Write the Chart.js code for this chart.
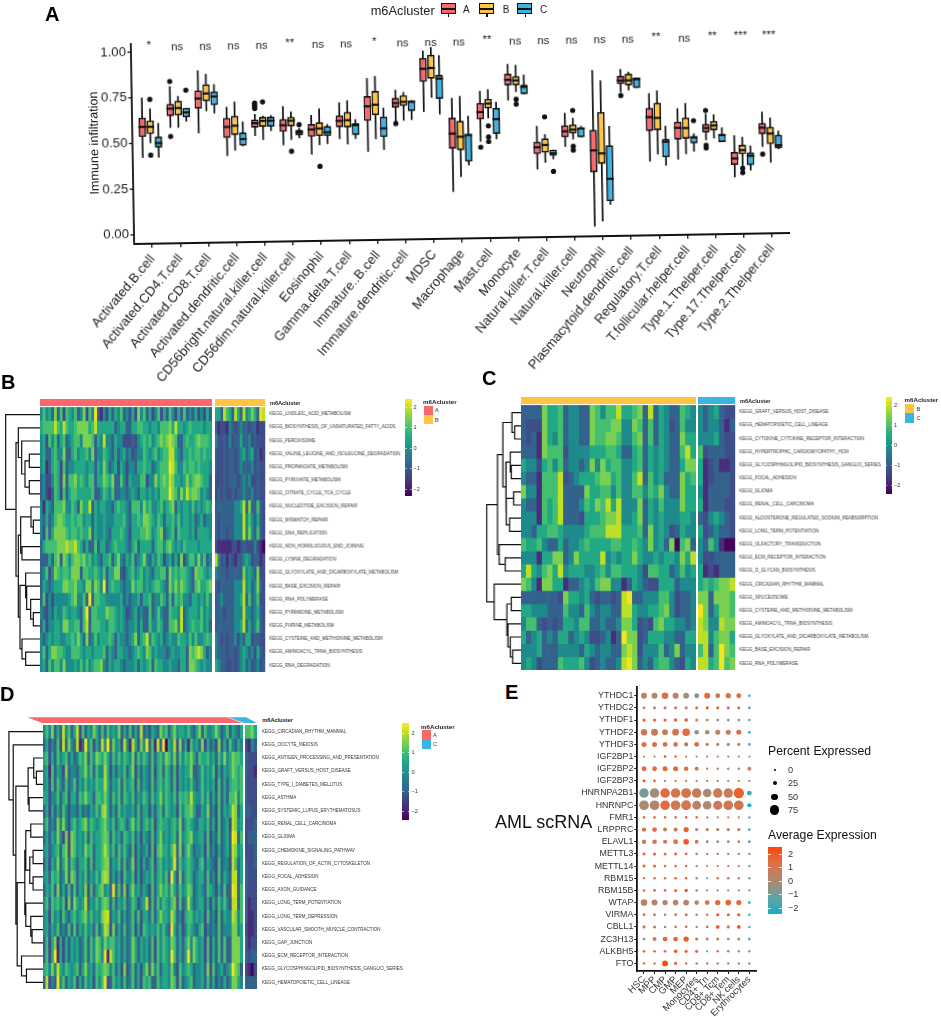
<!DOCTYPE html>
<html>
<head>
<meta charset="utf-8">
<script src="https://cdn.jsdelivr.net/npm/chart.js@4/dist/chart.umd.js"></script>
<style>
  html, body { margin: 0; padding: 0; background: #fff; }
  #page { position: relative; width: 941px; height: 1017px; overflow: hidden; font-family: "Liberation Sans", Arial, sans-serif; color: #222; }
  #page canvas { position: absolute; }
  .t { position: absolute; white-space: nowrap; transform: translateY(-50%); }
  .b { position: absolute; }
</style>
</head>
<body>
<div id="page"></div>
<script>
// ---- panel A: immune infiltration boxplots ----
const cellTypes = ['Activated.B.cell','Activated.CD4.T.cell','Activated.CD8.T.cell','Activated.dendritic.cell','CD56bright.natural.killer.cell','CD56dim.natural.killer.cell','Eosinophil','Gamma.delta.T.cell','Immature..B.cell','Immature.dendritic.cell','MDSC','Macrophage','Mast.cell','Monocyte','Natural.killer.T.cell','Natural.killer.cell','Neutrophil','Plasmacytoid.dendritic.cell','Regulatory.T.cell','T.follicular.helper.cell','Type.1.Thelper.cell','Type.17.Thelper.cell','Type.2.Thelper.cell'];
const signif = ['*','ns','ns','ns','ns','**','ns','ns','*','ns','ns','ns','**','ns','ns','ns','ns','ns','**','ns','**','***','***'];
const yTicksA = [0, 0.25, 0.5, 0.75, 1];

const loA  = [.42,.582,.55,.423,.53,.477,.424,.505,.433,.594,.646,.206,.478,.701,.321,.442,.004,.736,.354,.362,.465,.26,.424];
const q1A  = [.535,.647,.685,.522,.575,.55,.52,.57,.602,.672,.81,.443,.60,.783,.405,.495,.30,.781,.521,.471,.508,.328,.493];
const medA = [.59,.687,.74,.582,.60,.586,.56,.605,.682,.697,.882,.525,.64,.814,.442,.527,.42,.80,.597,.536,.532,.363,.529];
const q3A  = [.64,.714,.785,.632,.62,.62,.59,.635,.738,.726,.942,.612,.69,.847,.472,.56,.533,.825,.648,.569,.555,.399,.555];
const hiA  = [.75,.81,.894,.692,.65,.69,.64,.706,.836,.77,.981,.72,.756,.901,.559,.628,.86,.863,.728,.643,.61,.49,.616];

const loB  = [.50,.582,.67,.452,.507,.505,.474,.476,.502,.60,.723,.286,.605,.747,.357,.482,.031,.745,.392,.391,.474,.323,.337];
const q1B  = [.55,.65,.725,.537,.58,.58,.524,.568,.633,.68,.827,.433,.659,.783,.412,.515,.345,.772,.525,.476,.519,.386,.438];
const medB = [.59,.69,.767,.588,.612,.61,.565,.608,.69,.703,.886,.507,.686,.81,.454,.536,.403,.80,.592,.534,.545,.408,.496];
const q3B  = [.625,.73,.817,.642,.634,.632,.60,.653,.765,.74,.958,.594,.712,.834,.49,.564,.63,.836,.675,.591,.57,.437,.533];
const hiB  = [.69,.756,.875,.72,.64,.66,.675,.717,.847,.757,1.0,.73,.764,.895,.513,.60,.802,.848,.742,.671,.606,.481,.584];

const loC  = [.42,.615,.657,.474,.556,.513,.48,.505,.442,.603,.631,.349,.49,.734,.375,.493,.121,.757,.33,.404,.454,.296,.41];
const q1C  = [.475,.638,.703,.478,.58,.53,.523,.526,.513,.652,.716,.37,.519,.734,.394,.493,.141,.757,.376,.449,.454,.325,.415];
const medC = [.50,.665,.75,.514,.612,.546,.544,.58,.56,.703,.827,.516,.60,.774,.408,.541,.263,.806,.461,.482,.492,.376,.431];
const q3C  = [.535,.69,.778,.55,.634,.56,.578,.59,.624,.708,.847,.52,.661,.786,.428,.545,.446,.814,.477,.489,.499,.394,.489];
const hiC  = [.61,.69,.817,.61,.642,.57,.587,.612,.673,.712,.955,.621,.695,.841,.428,.555,.552,.814,.548,.504,.534,.432,.511];

// [category index, value]
const outA = [[1,.836],[1,.535],[4,.71],[4,.70],[4,.69],[4,.68],[9,.585],[12,.448],[17,.718],[20,.628],[20,.438],[20,.423],[22,.384]];
const outB = [[0,.74],[0,.435],[4,.716],[5,.443],[6,.358],[12,.564],[12,.503],[12,.478],[13,.707],[13,.68],[14,.608],[15,.641],[15,.445],[15,.424],[21,.309],[21,.285]];
const outC = [[1,.787],[5,.588],[14,.309],[19,.574]];

// ---- heatmap rows, one digit per column: 0 = lowest ... 9 = highest ----
const heatPalette = ['#450559','#472d7b','#3d4e8a','#33638d','#1f8a8c','#22a884','#44bf70','#7ad151','#bddf26','#f1e51d'];

const rowsB = ['KEGG_LINOLEIC_ACID_METABOLISM','KEGG_BIOSYNTHESIS_OF_UNSATURATED_FATTY_ACIDS','KEGG_PEROXISOME','KEGG_VALINE_LEUCINE_AND_ISOLEUCINE_DEGRADATION','KEGG_PROPANOATE_METABOLISM','KEGG_PYRUVATE_METABOLISM','KEGG_CITRATE_CYCLE_TCA_CYCLE','KEGG_NUCLEOTIDE_EXCISION_REPAIR','KEGG_MISMATCH_REPAIR','KEGG_DNA_REPLICATION','KEGG_NON_HOMOLOGOUS_END_JOINING','KEGG_LYSINE_DEGRADATION','KEGG_GLYOXYLATE_AND_DICARBOXYLATE_METABOLISM','KEGG_BASE_EXCISION_REPAIR','KEGG_RNA_POLYMERASE','KEGG_PYRIMIDINE_METABOLISM','KEGG_PURINE_METABOLISM','KEGG_CYSTEINE_AND_METHIONINE_METABOLISM','KEGG_AMINOACYL_TRNA_BIOSYNTHESIS','KEGG_RNA_DEGRADATION'];
const heatBa = [
  '4645373626 5463472649 3142535463 4252746352 4625364253 6343524253',
  '5666686586 5567777568 5555553455 3355665545 5466675855 4565555455',
  '4526463563 4566477763 5484435442 2232456564 5676787633 5655676665',
  '4533564473 3564556473 4465435345 3423446545 6456688543 5565665655',
  '4513565263 4455554553 5475345254 2443556553 4566698644 6566565554',
  '3422465273 6675654663 5576573364 2544466244 7567687554 5756776553',
  '3421365263 5665555563 3465463344 3454355454 5466697647 5867764543',
  '4154366674 4653755835 4554435655 4366647564 4564567354 5546454565',
  '4353467765 5656645535 4454445556 4355657765 4653556464 5545345344',
  '4263577776 5665655735 4454355565 4255566764 5673456365 5545355554',
  '3566667778 7786535336 3553456555 4356355553 5664675454 6555545555',
  '3335367376 4677675645 4355635743 5463457435 4652453537 2466474634',
  '3462476566 5777366556 5463557732 4564564543 5566375656 6543766545',
  '3543455577 6675547747 6493565543 4475664545 6654375757 6543675567',
  '3624244444 5674463936 6554444453 4344535563 4465363656 4435545464',
  '4324354465 4554369366 5557665454 2345343363 4643365548 3455546454',
  '3524455477 5566368366 6554665454 3445353364 4653366748 3456556453',
  '4345455445 5657537346 4555653544 3457356846 5453454465 5464644565',
  '4635776654 4666545545 5563543554 4345654764 5444345445 5376787534',
  '4536466474 4454646456 6743545543 4445354563 6554454435 5377654544'
];
const heatBb = ['553865385384575398','312214323433233122','422324233533423222','322323323453452312','322323323433342322','222323332343422322','232322323343342322','333333344583733632','323333344484643532','323323344484743632','211111221232224210','842313213345423312','433323333374543722','323333344484534732','334333344583634622','333233344484434532','333333344583534632','432323342435523322','433323323454342532','543322323453423423'];

const rowsC = ['KEGG_GRAFT_VERSUS_HOST_DISEASE','KEGG_HEMATOPOIETIC_CELL_LINEAGE','KEGG_CYTOKINE_CYTOKINE_RECEPTOR_INTERACTION','KEGG_HYPERTROPHIC_CARDIOMYOPATHY_HCM','KEGG_GLYCOSPHINGOLIPID_BIOSYNTHESIS_GANGLIO_SERIES','KEGG_FOCAL_ADHESION','KEGG_GLIOMA','KEGG_RENAL_CELL_CARCINOMA','KEGG_ALDOSTERONE_REGULATED_SODIUM_REABSORPTION','KEGG_LONG_TERM_POTENTIATION','KEGG_OLFACTORY_TRANSDUCTION','KEGG_ECM_RECEPTOR_INTERACTION','KEGG_O_GLYCAN_BIOSYNTHESIS','KEGG_CIRCADIAN_RHYTHM_MAMMAL','KEGG_SPLICEOSOME','KEGG_CYSTEINE_AND_METHIONINE_METABOLISM','KEGG_AMINOACYL_TRNA_BIOSYNTHESIS','KEGG_GLYOXYLATE_AND_DICARBOXYLATE_METABOLISM','KEGG_BASE_EXCISION_REPAIR','KEGG_RNA_POLYMERASE'];
const heatCa = [
  '3333 7556 3443 3764 6685 5673 8354 3365 4',
  '3222 7556 3443 3766 6774 4763 6354 2364 4',
  '3231 7546 3443 3766 7764 4673 6354 3375 5',
  '3331 7666 2444 4555 6653 3563 5454 3368 5',
  '5442 5646 3443 4747 5664 4563 5454 3357 7',
  '4331 6668 2345 5567 7564 4683 6453 3375 6',
  '7441 6668 3333 7556 6464 4664 6574 3375 5',
  '4331 6568 3334 6576 8584 4473 5464 4475 5',
  '4441 6568 3332 5556 7784 4573 5454 4455 4',
  '4435 5665 4444 5666 8885 5563 7454 2354 4',
  '6556 4335 3445 6555 5665 5654 7453 7067 3',
  '4441 5577 3475 5558 4545 5754 4545 5475 8',
  '5854 6758 4555 4456 4665 5542 6655 3464 5',
  '7641 7755 1334 5467 7441 3543 2255 5344 4',
  '3333 3332 7554 5323 3238 9334 4466 4233 4',
  '5544 4333 6443 6434 4338 8544 5567 4233 4',
  '4663 2323 5546 6334 3347 7523 2675 5443 4',
  '5345 3435 5345 4223 4139 7723 5554 4335 5',
  '4445 3334 4443 5434 4337 8724 4463 4734 4',
  '4542 3336 5556 4234 3348 9734 3566 4325 4'
];
const heatCb = ['4345322','4344313','4445322','6233322','5123112','5123332','4133332','5133322','3245432','5234332','4364100','4223333','5121333','5656778','7737776','9735776','8744877','8846775','6836976','8856967'];

const rowsD = ['KEGG_CIRCADIAN_RHYTHM_MAMMAL','KEGG_OOCYTE_MEIOSIS','KEGG_ANTIGEN_PROCESSING_AND_PRESENTATION','KEGG_GRAFT_VERSUS_HOST_DISEASE','KEGG_TYPE_I_DIABETES_MELLITUS','KEGG_ASTHMA','KEGG_SYSTEMIC_LUPUS_ERYTHEMATOSUS','KEGG_RENAL_CELL_CARCINOMA','KEGG_GLIOMA','KEGG_CHEMOKINE_SIGNALING_PATHWAY','KEGG_REGULATION_OF_ACTIN_CYTOSKELETON','KEGG_FOCAL_ADHESION','KEGG_AXON_GUIDANCE','KEGG_LONG_TERM_POTENTIATION','KEGG_LONG_TERM_DEPRESSION','KEGG_VASCULAR_SMOOTH_MUSCLE_CONTRACTION','KEGG_GAP_JUNCTION','KEGG_ECM_RECEPTOR_INTERACTION','KEGG_GLYCOSPHINGOLIPID_BIOSYNTHESIS_GANGLIO_SERIES','KEGG_HEMATOPOIETIC_CELL_LINEAGE'];
const heatDa = [
  '4647353846 3582635475 3636454735 3635383425 4375635745 5464357364 4575346354 35',
  '3524362837 4381394625 3849374528 4185274936 1839054827 3516453725 3427353643 54',
  '5625364563 5346573647 6575364646 5473646536 3564764736 4657536556 4536474576 65',
  '4516354273 4435574636 4485253546 3572535436 2563653625 4557334645 4625354576 56',
  '4526364363 4635464546 5585354636 4562635436 3564653625 4546434645 4526353566 56',
  '5524463562 5536575536 6575364636 5463546536 4574654636 5658544646 3536353667 46',
  '3525353642 4435343546 4785353645 4453635525 3563654526 4667533547 3426354587 35',
  '4634374742 5645674654 5675463565 3574635646 2565545647 3565435546 3526345287 45',
  '3535474272 7645463645 5676364536 5463525436 3574545637 4567445536 2436345398 36',
  '4534563672 7645475635 5686463646 4362534526 2675546837 3575344526 3425345387 45',
  '3525473573 6535563635 5677354636 3472525346 2564545936 4565435635 4326344286 35',
  '4536563473 7635463546 4787353526 4462524546 3564639527 3565345536 3426354388 35',
  '3546373536 3635472635 6745393637 2574535426 3575647536 4576345436 5425363398 36',
  '4636564627 3754583546 4676363546 3465245826 3646546726 3485345535 2536464288 36',
  '4526453643 5645674645 4788354635 3463625536 3575548634 2566454526 3426354487 46',
  '4535463436 3635464536 3587273536 3462526545 4646439535 2465435624 3436344477 45',
  '3625715253 5453463647 6475664535 3475354536 2646547635 3574754526 2536363377 75',
  '3625915253 5453463647 6491864535 3475354536 2646549635 3594754526 2536363377 75',
  '5647485465 4563574536 5676463527 2463525737 4635547426 4565344537 2634534597 63',
  '3824394635 4625364526 4692364536 3463526563 3645547626 3456344536 3524353477 54'
];
const heatDb = ['6675','2143','3222','3221','3222','3222','3322','2223','2333','2223','3223','3222','3222','3122','3112','2112','3122','3233','2102','3333'];

// dendrograms: [height, left, right], a plain number is a row
const treeB = [103, 0, [72, [65, 1, [55, 2, [45, [32, 3, 4], [32, 5, 6]]]],
  [65, [58, [27, 7, [20, 8, 9]], [54, 10, 11]], [60, [43, 12, [40, 13, [28, 14, [20, 15, 16]]]], [54, 17, [43, 18, 19]]]]]];
const treeC = [102, [70, [54, [27, 0, [19, 1, 2]], [45, [32, 3, [29, 4, 5]], [44, [22, 6, 7], [34, 8, 9]]]], [65, 10, [47, 11, 12]]],
  [80, 13, [42, [29, 14, 15], [39, 16, [32, 17, [25, 18, 19]]]]]];
const treeD = [103, 0, [90, 1, [82, [45, [28, 2, [20, 3, 4]], [42, 5, 6]],
  [78, [55, [52, [37, 7, 8], [40, [30, 9, 10], [30, 11, 12]]], [52, 13, [37, 14, [33, 15, 16]]]], [65, 17, [50, 18, 19]]]]]];

// ---- panel E: dot plot ----
const genes = ['YTHDC1','YTHDC2','YTHDF1','YTHDF2','YTHDF3','IGF2BP1','IGF2BP2','IGF2BP3','HNRNPA2B1','HNRNPC','FMR1','LRPPRC','ELAVL1','METTL3','METTL14','RBM15','RBM15B','WTAP','VIRMA','CBLL1','ZC3H13','ALKBH5','FTO'];
const scCells = ['HSC','MPP','CMP','GMP','MEP','Monocytes','CD4+ Tn','CD8+ Tcm','CD8+ Tem','NK cells','Erythrocytes'];
const pctExpr = [
  [42,42,48,42,40,31,42,31,35,31,6],[10,12,14,13,13,13,13,13,13,13,8],[14,14,14,16,18,12,10,10,10,10,8],
  [46,52,40,50,58,28,28,32,32,32,8],[32,32,30,28,24,30,15,14,15,14,8],[4,4,8,6,5,5,5,5,5,5,5],
  [30,30,32,32,28,22,5,6,6,8,22],[10,8,5,5,5,5,5,5,5,5,5],[78,78,78,78,80,78,68,76,76,86,30],
  [78,78,78,78,80,70,68,74,78,78,24],[8,8,8,8,8,8,6,5,5,5,6],[26,30,22,24,34,15,15,15,15,15,8],
  [26,28,24,30,38,20,10,10,10,10,10],[12,12,12,12,10,8,6,6,6,6,6],[12,12,8,8,8,6,5,5,5,5,6],
  [6,8,8,8,8,6,4,8,8,6,6],[8,10,10,12,16,8,5,5,5,5,5],[48,42,36,38,40,28,30,36,38,34,8],
  [10,10,8,10,12,8,6,14,14,14,6],[14,12,8,10,10,6,10,20,14,20,6],[10,22,30,30,36,14,12,12,10,12,8],
  [10,10,10,18,14,14,4,8,8,6,6],[8,6,40,14,8,8,6,6,6,6,6]
];
const avgExpr = [
  [.4,.1,.9,.3,-.1,-.7,1.2,.6,.9,1.1,-2.3],[.3,.2,.3,.3,.2,1,1.9,1.5,.8,.8,-1.6],[1.6,1.3,1.3,1.4,1.8,.6,-.2,-.4,-.3,-.4,-1.1],
  [.7,.5,.4,.8,1.1,-.5,-.1,.2,.6,1.1,-2.2],[1,1,.9,.7,.2,.9,.3,.1,.1,.3,-2],[0,.1,2.2,1.6,.6,.4,.4,.3,.3,.3,-.2],
  [1.1,1.1,1.3,1.3,.8,.3,-.4,-.2,-.2,-.3,.3],[2.3,2,.3,.3,.3,.3,.2,.2,.2,.2,-.3],[-.7,-.2,1.1,.7,.8,.6,-.1,.6,.5,1.5,-1.7],
  [-.1,.1,1.1,.6,.7,.2,0,.5,.7,.7,-2.3],[1,1,1,1,.8,1.1,.3,.2,.2,.1,-1.5],[.9,1,.4,.4,1.4,0,.1,.1,.2,.1,-2],
  [.3,.8,.6,1,1.9,.2,-.4,-.2,-.1,-.1,-1.3],[1.3,1.6,1.1,1.3,1.2,.4,.2,.2,.2,.2,-.3],[1.6,1.6,.5,.7,1.1,.4,-.1,-.1,.1,.3,-1.3],
  [.5,.7,1.1,1.3,1.5,-.3,-1.4,.9,.8,.3,-.4],[1.3,1.3,1.2,1.5,1.9,.4,-.2,.2,.2,.1,-.3],[.2,.2,0,0,.2,-.2,.7,1.2,1.6,1.2,-2.2],
  [.8,.8,.3,.4,1,.3,.3,1.7,1.5,1.8,-2],[.7,.3,-.1,.1,.5,-.3,.4,1.6,.9,1.7,-1],[-.3,.4,1.3,1.2,1.7,.2,.2,.1,0,.1,-1.3],
  [.2,.4,.9,1.8,1.2,.6,-1.5,.1,.2,.1,-.5],[.5,.6,2.3,1.1,.7,.5,.3,.3,.3,.3,-.2]
];

const colA = '#f8696c', colB = '#fec444', colC = '#3bb4e4';
const SANS = '"Liberation Sans", Arial, sans-serif';
Chart.defaults.animation = false;
Chart.defaults.font.family = SANS;
Chart.defaults.plugins.legend.display = false;
Chart.defaults.plugins.tooltip.enabled = false;
Chart.defaults.responsive = false;
Chart.defaults.events = [];

const page = document.getElementById('page');

function addCanvas(x, y, w, h) {
  const c = document.createElement('canvas');
  c.width = w; c.height = h;
  c.style.cssText = `left:${x}px;top:${y}px;width:${w}px;height:${h}px`;
  page.appendChild(c);
  return c;
}
function txt(x, y, s, css) {
  const d = document.createElement('div');
  d.className = 't';
  d.textContent = s;
  d.style.cssText = `left:${x}px;top:${y}px;${css || ''}`;
  page.appendChild(d);
  return d;
}
function box(x, y, w, h, css) {
  const d = document.createElement('div');
  d.className = 'b';
  d.style.cssText = `left:${x}px;top:${y}px;width:${w}px;height:${h}px;${css || ''}`;
  page.appendChild(d);
  return d;
}

// panel A ---------------------------------------------------------------
const boxParts = [
  { lo: loA, med: medA, hi: hiA, out: outA },
  { lo: loB, med: medB, hi: hiB, out: outB },
  { lo: loC, med: medC, hi: hiC, out: outC }
];
const boxPlugin = {
  id: 'boxParts',
  beforeDatasetsDraw(chart) {
    const { ctx, scales: { y } } = chart;
    ctx.save();
    ctx.strokeStyle = '#111';
    ctx.lineWidth = 1.7;
    boxParts.forEach((p, d) => {
      chart.getDatasetMeta(d).data.forEach((bar, i) => {
        ctx.beginPath();
        ctx.moveTo(bar.x, y.getPixelForValue(p.lo[i]));
        ctx.lineTo(bar.x, y.getPixelForValue(p.hi[i]));
        ctx.stroke();
      });
    });
    ctx.restore();
  },
  afterDatasetsDraw(chart) {
    const { ctx, chartArea, scales: { x, y } } = chart;
    ctx.save();
    boxParts.forEach((p, d) => {
      const bars = chart.getDatasetMeta(d).data;
      ctx.strokeStyle = '#111';
      ctx.lineWidth = 2.2;
      bars.forEach((bar, i) => {
        ctx.beginPath();
        ctx.moveTo(bar.x - bar.width / 2, y.getPixelForValue(p.med[i]));
        ctx.lineTo(bar.x + bar.width / 2, y.getPixelForValue(p.med[i]));
        ctx.stroke();
      });
      ctx.fillStyle = '#111';
      p.out.forEach(([i, v]) => {
        ctx.beginPath();
        ctx.arc(bars[i].x, y.getPixelForValue(v), 2.6, 0, Math.PI * 2);
        ctx.fill();
      });
    });
    // axis lines stand a little off the first and last category
    ctx.strokeStyle = '#111';
    ctx.lineWidth = 1.8;
    const ax = chartArea.left - 4;
    ctx.beginPath();
    ctx.moveTo(ax, chartArea.top);
    ctx.lineTo(ax, chartArea.bottom);
    ctx.lineTo(chartArea.right + 4, chartArea.bottom);
    ctx.stroke();
    ctx.lineWidth = 1.3;
    yTicksA.forEach(v => {
      ctx.beginPath();
      ctx.moveTo(ax - 3.5, y.getPixelForValue(v));
      ctx.lineTo(ax, y.getPixelForValue(v));
      ctx.stroke();
    });
    ctx.fillStyle = '#222';
    ctx.font = '11.4px ' + SANS;
    ctx.textAlign = 'center';
    ctx.textBaseline = 'middle';
    signif.forEach((s, i) => {
      ctx.fillText(s, x.getPixelForValue(i), y.getPixelForValue(s === 'ns' ? 1.025 : 1.035));
    });
    ctx.restore();
  }
};
const canvasA = addCanvas(0, 0, 941, 400);
canvasA.style.transformOrigin = '134px 235px';
canvasA.style.transform = 'rotate(-0.96deg)';
const zipRange = (a, b) => a.map((v, i) => [v, b[i]]);
new Chart(canvasA, {
  type: 'bar',
  data: {
    labels: cellTypes,
    datasets: [[q1A, q3A, colA], [q1B, q3B, colB], [q1C, q3C, colC]].map(([a, b, c]) => ({
      data: zipRange(a, b), backgroundColor: c, borderColor: '#111', borderWidth: 1.7, borderSkipped: false,
      categoryPercentage: 0.85, barPercentage: 0.94
    }))
  },
  options: {
    layout: { padding: { left: 98, top: 43, right: 155, bottom: 0 } },
    scales: {
      x: {
        afterFit(s) { s.height = 156; },
        border: { display: false },
        grid: { drawOnChartArea: false, offset: false, tickLength: 4, color: '#111', lineWidth: 1.3 },
        ticks: { autoSkip: false, minRotation: 49, maxRotation: 49, padding: 4, color: '#222', font: { size: 13.2 } }
      },
      y: {
        min: -0.05, max: 1.05,
        afterFit(s) { s.width = 40; },
        afterBuildTicks(s) { s.ticks = yTicksA.map(v => ({ value: v })); },
        border: { display: false },
        grid: { display: false, drawTicks: false },
        ticks: { padding: 9, color: '#222', font: { size: 13.2 }, callback: v => v.toFixed(2) }
      }
    }
  },
  plugins: [boxPlugin]
});
txt(94, 143, 'Immune infiltration', 'font-size:12.6px;transform:translate(-50%,-50%) rotate(-90.9deg)');
txt(45, 14, 'A', 'font-size:20px;font-weight:bold;color:#000');
txt(370.7, 10, 'm6Acluster', 'font-size:12.8px');
[[440.7, colA, 'A', 463], [479, colB, 'B', 502.7], [517.3, colC, 'C', 540]].forEach(([x, c, s, lx]) => {
  box(x + 7.2, 13, 1.5, 3.5, 'background:#111');
  box(x, 3.3, 15, 10.7, `background:${c};border:1.5px solid #111;box-sizing:border-box`);
  box(x, 8, 15, 1.6, 'background:#111');
  txt(lx, 8.5, s, 'font-size:10px');
});

// heatmaps --------------------------------------------------------------
const parseRow = r => r.replace(/ /g, '').split('').map(Number);

function heatChart(x, w, top, bottom, annotTop, annotBottom, annotColor, rows, names, labelPad) {
  const nCols = parseRow(rows[0]).length;
  const rowH = (bottom - top) / rows.length;
  const yMin = annotTop === null ? 0 : (annotTop - top) / rowH;
  const canvasTop = annotTop === null ? top : annotTop;
  const labelW = names ? 195 : 0;
  const datasets = rows.map((r, i) => {
    const vals = parseRow(r);
    return {
      data: vals.map(() => [i, i + 1]),
      backgroundColor: vals.map(d => heatPalette[d]),
      borderWidth: 0, grouped: false, categoryPercentage: 1, barPercentage: 1
    };
  });
  if (annotTop !== null) {
    const a0 = (annotTop - top) / rowH, a1 = (annotBottom - top) / rowH;
    datasets.push({
      data: parseRow(rows[0]).map(() => [a0, a1]),
      backgroundColor: annotColor, borderWidth: 0, grouped: false, categoryPercentage: 1, barPercentage: 1
    });
  }
  return new Chart(addCanvas(x, canvasTop, w + labelW, bottom - canvasTop), {
    type: 'bar',
    data: { labels: Array.from({ length: nCols }, (_, i) => i), datasets },
    options: {
      layout: { padding: 0 },
      scales: {
        x: { display: false },
        y: {
          display: !!names, position: 'right', reverse: true, min: yMin, max: rows.length,
          afterFit(s) { s.width = labelW; s.paddingTop = 0; s.paddingBottom = 0; },
          afterBuildTicks(s) { s.ticks = rows.map((_, i) => ({ value: i + 0.5 })); },
          border: { display: false },
          grid: { display: false, drawTicks: false },
          ticks: {
            autoSkip: false, padding: labelPad, color: '#333',
            font: { size: 4.5 },
            callback: v => names ? names[Math.round(v - 0.5)] : ''
          }
        }
      }
    }
  });
}

function dendro(tree, leafX, top, bottom, n, maxH) {
  const pts = [];
  const walk = node => {
    if (typeof node === 'number') return { y: node + 0.5, h: 0 };
    const a = walk(node[1]), b = walk(node[2]);
    pts.push({ x: a.h, y: a.y }, { x: node[0], y: a.y }, { x: node[0], y: b.y }, { x: b.h, y: b.y }, { x: NaN, y: NaN });
    return { y: (a.y + b.y) / 2, h: node[0] };
  };
  walk(tree);
  new Chart(addCanvas(leafX[0], top, leafX[1] - leafX[0], bottom - top), {
    type: 'scatter',
    data: { datasets: [{ data: pts, showLine: true, spanGaps: false, pointRadius: 0, borderColor: '#111', borderWidth: 1.2 }] },
    options: {
      layout: { padding: 0 },
      scales: {
        x: { display: false, reverse: true, min: 0, max: maxH },
        y: { display: false, reverse: true, min: 0, max: n }
      }
    }
  });
}

const viridisCss = 'linear-gradient(to top,#440154,#482475,#414487,#355f8d,#2a788e,#21918c,#22a884,#44bf70,#7ad151,#bddf26,#fde725)';
function colorbar(x, y, w, h, ticks, labelX, size) {
  box(x, y, w, h, 'background:' + viridisCss);
  ticks.forEach(([yy, s]) => {
    box(x, yy, w * 0.2, 0.5, 'background:rgba(255,255,255,.6)');
    box(x + w * 0.8, yy, w * 0.2, 0.5, 'background:rgba(255,255,255,.6)');
    txt(labelX, yy, s, `font-size:${size}px;color:#333`);
  });
}
function clusterLegend(x, titleY, sqY, sqH, items) {
  txt(x, titleY, 'm6Acluster', 'font-size:6.2px;font-weight:bold');
  items.forEach(([c, s], i) => {
    box(x + 0.5, sqY + i * sqH, 9.3, sqH, `background:${c}`);
    txt(x + 12, sqY + (i + 0.5) * sqH, s, 'font-size:5.6px;color:#333');
  });
}
const boldTag = 'font-size:5.6px;font-weight:bold;color:#222';

// panel B
heatChart(40, 172, 407.7, 672.3, 399.3, 406, colA, heatBa, null, 0);
heatChart(215, 50.7, 407.7, 672.3, 399.3, 406, colB, heatBb, rowsB, 4.3);
dendro(treeB, [0, 40], 407.7, 672.3, 20, 120);
txt(1, 382, 'B', 'font-size:20px;font-weight:bold;color:#000');
txt(270, 403, 'm6Acluster', boldTag);
colorbar(405.3, 399, 6.4, 97, [[406.7, '2'], [427.3, '1'], [447.7, '0'], [468, '\u22121'], [488.7, '\u22122']], 413.5, 5.6);
clusterLegend(423, 401, 405.7, 9.3, [[colA, 'A'], [colB, 'B']]);

// panel C
heatChart(520.7, 175.3, 405.7, 670, 397.3, 404, colB, heatCa, null, 0);
heatChart(698.3, 37.4, 405.7, 670, 397.3, 404, colC, heatCb, rowsC, 4.3);
dendro(treeC, [480, 520.7], 405.7, 670, 20, 122);
txt(482, 378, 'C', 'font-size:20px;font-weight:bold;color:#000');
txt(740, 400.7, 'm6Acluster', boldTag);
colorbar(885.7, 396.7, 6.6, 97.3, [[405, '2'], [425, '1'], [445, '0'], [465, '\u22121'], [485, '\u22122']], 894, 5.6);
clusterLegend(904.5, 399, 404, 9.3, [[colB, 'B'], [colC, 'C']]);

// panel D
heatChart(43.3, 199.4, 725.3, 989.3, null, null, null, heatDa, null, 0);
heatChart(245, 12.3, 725.3, 989.3, null, null, null, heatDb, rowsD, 5);
dendro(treeD, [0, 43.3], 725.3, 989.3, 20, 130);
box(27, 717.3, 216, 6, `background:${colA};clip-path:polygon(0 0,92.6% 0,100% 100%,7.4% 100%)`);
box(228, 717.3, 29.5, 6, `background:${colC};clip-path:polygon(0 0,61% 0,100% 100%,58% 100%)`);
txt(0, 694, 'D', 'font-size:20px;font-weight:bold;color:#000');
txt(262.3, 720, 'm6Acluster', boldTag);
colorbar(402.3, 722.7, 6.7, 97.3, [[732.7, '2'], [752.3, '1'], [771.7, '0'], [791, '\u22121'], [810.7, '\u22122']], 411.5, 5.6);
clusterLegend(421, 725.7, 730, 9.3, [[colA, 'A'], [colC, 'C']]);

// panel E ---------------------------------------------------------------
const expStops = [[-2.3, [27, 174, 192]], [-1, [99, 163, 166]], [0, [176, 135, 111]], [1, [222, 112, 70]], [2.3, [255, 72, 10]]];
function expColor(v) {
  let i = 0;
  while (i < expStops.length - 2 && v > expStops[i + 1][0]) i++;
  const [a, ca] = expStops[i], [b, cb] = expStops[i + 1];
  const t = Math.min(1, Math.max(0, (v - a) / (b - a)));
  const c = ca.map((u, k) => Math.round(u + (cb[k] - u) * t));
  return `rgb(${c.join(',')})`;
}
const pctRadius = p => 0.9 + p * 0.05;
const dotData = [], dotColors = [];
genes.forEach((g, j) => scCells.forEach((c, i) => {
  dotData.push({ x: i, y: j, r: pctRadius(pctExpr[j][i]) });
  dotColors.push(expColor(avgExpr[j][i]));
}));
new Chart(addCanvas(560, 675, 210, 342), {
  type: 'bubble',
  data: { datasets: [{ data: dotData, backgroundColor: dotColors, borderWidth: 0 }] },
  options: {
    layout: { padding: { left: 0, top: 12, right: 13.3, bottom: 0 } },
    scales: {
      x: {
        min: -0.636, max: 10.7,
        afterFit(s) { s.height = 46; },
        afterBuildTicks(s) { s.ticks = scCells.map((_, i) => ({ value: i })); },
        border: { color: '#111', width: 1.8 },
        grid: { drawOnChartArea: false, tickLength: 3, color: '#111' },
        ticks: { autoSkip: false, minRotation: 45, maxRotation: 45, padding: 0, color: '#333', font: { size: 9.4 }, callback: v => scCells[v] }
      },
      y: {
        reverse: true, min: -0.715, max: 22.62,
        afterFit(s) { s.width = 77.3; },
        afterBuildTicks(s) { s.ticks = genes.map((_, i) => ({ value: i })); },
        border: { color: '#111', width: 1.8 },
        grid: { drawOnChartArea: false, tickLength: 3, color: '#111' },
        ticks: { autoSkip: false, padding: 1, color: '#333', font: { size: 8.8 }, callback: v => genes[v] }
      }
    }
  }
});
txt(505, 692, 'E', 'font-size:20px;font-weight:bold;color:#000');
txt(495, 822, 'AML scRNA', 'font-size:18px;color:#111');
txt(768, 751, 'Percent Expressed', 'font-size:12.2px;color:#111');
[[770, 0], [783, 25], [797, 50], [810, 75]].forEach(([y, p]) => {
  const r = pctRadius(p);
  box(774.7 - r, y - r, r * 2, r * 2, 'background:#000;border-radius:50%');
  txt(788, y, String(p), 'font-size:9.2px;color:#333');
});
txt(768, 835, 'Average Expression', 'font-size:12.2px;color:#111');
box(768.3, 846.7, 13.4, 67.6, 'background:linear-gradient(to top,#1baec0,#63a3a6,#b0876f,#de7046,#ff480a)');
[[853.7, '2'], [867.3, '1'], [880.7, '0'], [894.3, '\u22121'], [907.7, '\u22122']].forEach(([y, s]) => {
  box(768.3, y, 2.7, 0.7, 'background:rgba(255,255,255,.8)');
  box(779, y, 2.7, 0.7, 'background:rgba(255,255,255,.8)');
  txt(788, y, s, 'font-size:9.2px;color:#333');
});
</script>
</body>
</html>
